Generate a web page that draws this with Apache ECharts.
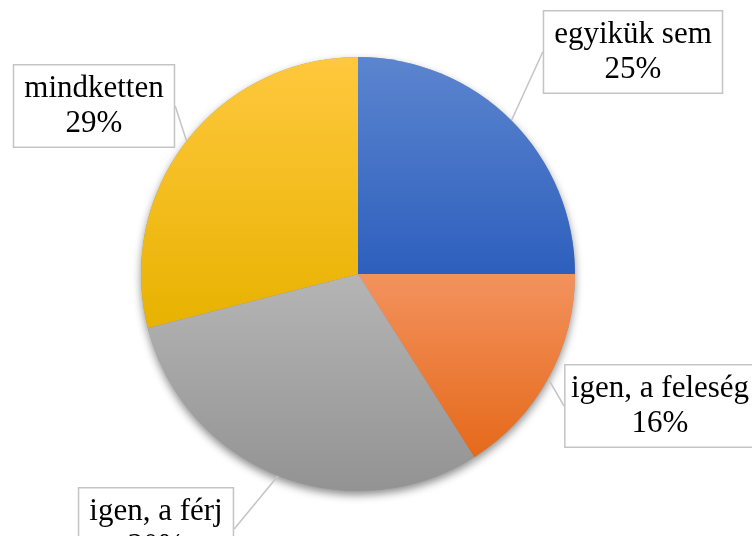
<!DOCTYPE html>
<html>
<head>
<meta charset="utf-8">
<script src="https://cdn.jsdelivr.net/npm/echarts@6/dist/echarts.min.js"></script>
<style>
  html, body { margin: 0; padding: 0; background: #fff; }
  #chart { width: 752px; height: 536px; }
</style>
</head>
<body>
<div id="chart"></div>
<script>
// adatok (óramutató járásával megegyezően, 12 órától)
const labels = ['egyikük sem', 'igen, a feleség', 'igen, a férj', 'mindketten']
const values = [25, 16, 30, 29]

// színátmenetek: felső / alsó szín
const topColors = ['#5c85cf', '#f3925e', '#b5b5b5', '#ffc83e']
const bottomColors = ['#2d5fbd', '#e5691a', '#939393', '#e8b200']

// címkedobozok középpontja (px)
const labelSpots = [[633, 52], [660, 406], [156, 529], [94, 106]]

const chart = echarts.init(document.getElementById('chart'))

const data = labels.map((name, i) => ({
  name,
  value: values[i],
  itemStyle: {
    color: new echarts.graphic.LinearGradient(0, 0, 0, 1, [
      { offset: 0, color: topColors[i] },
      { offset: 1, color: bottomColors[i] }
    ])
  }
}))

const common = {
  type: 'pie',
  center: [358, 274],
  radius: 217,
  startAngle: 90,
  clockwise: true,
  animation: false
}

chart.setOption({
  backgroundColor: '#fff',
  series: [
    {
      // árnyék a kör alatt
      ...common,
      silent: true,
      z: 1,
      data: values.map(v => ({ value: v })),
      label: { show: false },
      labelLine: { show: false },
      itemStyle: {
        color: '#999',
        shadowBlur: 9,
        shadowOffsetY: 4,
        shadowColor: 'rgba(0,0,0,0.45)'
      }
    },
    {
      ...common,
      z: 2,
      data,
      itemStyle: { borderWidth: 0 },
      label: {
        show: true,
        position: 'outside',
        overflow: 'none',
        formatter: p => p.name + '\n' + p.value + '%',
        fontFamily: '"Liberation Serif", "Times New Roman", serif',
        fontSize: 31,
        lineHeight: 35,
        color: '#000',
        align: 'center',
        backgroundColor: '#fff',
        borderColor: '#c4c4c4',
        borderWidth: 1.5,
        padding: [7, 10, 4, 10]
      },
      labelLine: {
        show: true,
        length: 0,
        length2: 0,
        smooth: false,
        lineStyle: { color: '#c4c4c4', width: 1.5 }
      },
      labelLayout: p => ({
        x: labelSpots[p.dataIndex][0],
        y: labelSpots[p.dataIndex][1],
        align: 'center',
        verticalAlign: 'middle'
      })
    }
  ]
})
</script>
</body>
</html>
